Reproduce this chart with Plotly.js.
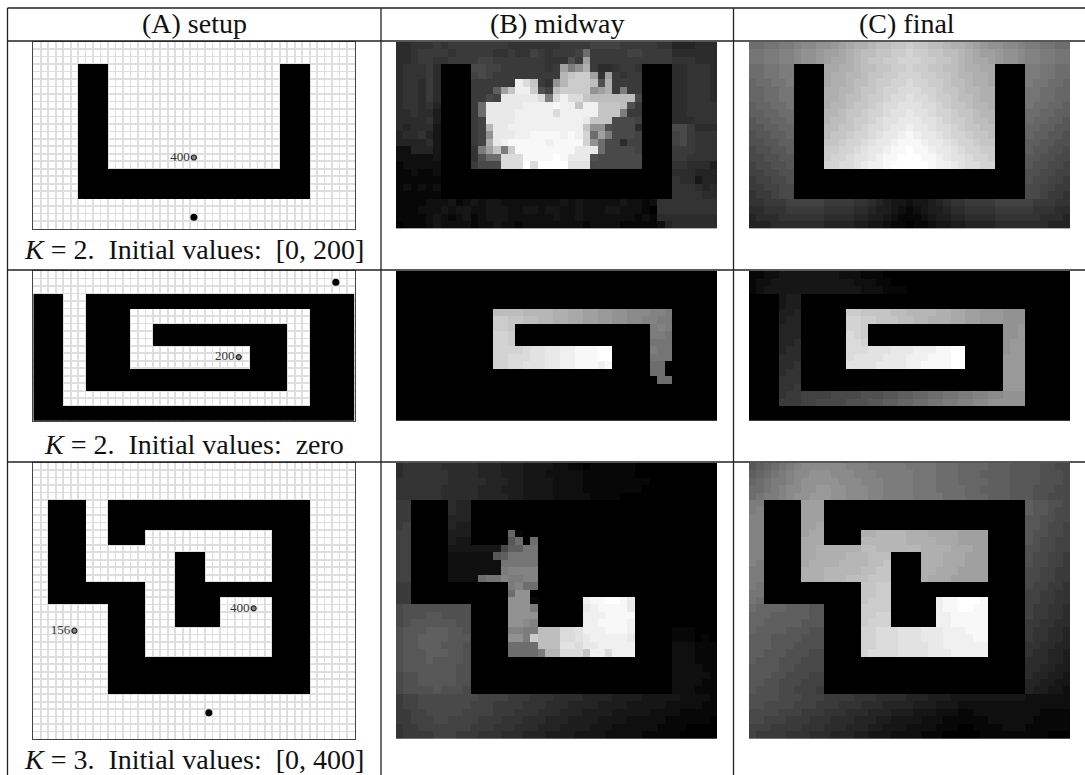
<!DOCTYPE html>
<html><head><meta charset="utf-8">
<script src="https://cdn.plot.ly/plotly-3.0.1.min.js"></script>
<style>html,body{margin:0;padding:0;background:#fff;overflow:hidden}#c{width:1085px;height:775px}</style>
</head><body><div id="c"></div>
<script>
// Row strings: one character per grid cell. Walls: '#' wall, '.' free.
const wallsA1 = [
".......... .......... .......... .......... ...",
".......... .......... .......... .......... ...",
".......... .......... .......... .......... ...",
"...... #### .......... .......... ... #### ......",
"...... #### .......... .......... ... #### ......",
"...... #### .......... .......... ... #### ......",
"...... #### .......... .......... ... #### ......",
"...... #### .......... .......... ... #### ......",
"...... #### .......... .......... ... #### ......",
"...... #### .......... .......... ... #### ......",
"...... #### .......... .......... ... #### ......",
"...... #### .......... .......... ... #### ......",
"...... #### .......... .......... ... #### ......",
"...... #### .......... .......... ... #### ......",
"...... #### .......... .......... ... #### ......",
"...... #### .......... .......... ... #### ......",
"...... #### .......... .......... ... #### ......",
"...... ########## ########## ########## # ......",
"...... ########## ########## ########## # ......",
"...... ########## ########## ########## # ......",
"...... ########## ########## ########## # ......",
".......... .......... .......... .......... ...",
".......... .......... .......... .......... ...",
".......... .......... .......... .......... ...",
".......... .......... .......... .......... ..."];
const wallsA2 = [
".......... .......... .......... .......... ...",
".......... .......... .......... .......... ...",
".......... .......... .......... .......... ...",
"#### ... ########## ########## ########## ######",
"#### ... ########## ########## ########## ######",
"#### ... ###### .......... .......... .... ######",
"#### ... ###### .......... .......... .... ######",
"#### ... ###### ... ########## ######## ... ######",
"#### ... ###### ... ########## ######## ... ######",
"#### ... ###### ... ########## ######## ... ######",
"#### ... ###### .......... ...... ##### ... ######",
"#### ... ###### .......... ...... ##### ... ######",
"#### ... ###### .......... ...... ##### ... ######",
"#### ... ########## ########## ####### ... ######",
"#### ... ########## ########## ####### ... ######",
"#### ... ########## ########## ####### ... ######",
"#### .......... .......... .......... ... ######",
"#### .......... .......... .......... ... ######",
"########## ########## ########## ########## ###",
"########## ########## ########## ########## ###"];
const wallsA3 = [
".......... .......... .......... .......... ...",
".......... .......... .......... .......... ...",
".......... .......... .......... .......... ...",
".......... .......... .......... .......... ...",
".......... .......... .......... .......... ...",
".. ##### ... ########## ########## ####### ......",
".. ##### ... ########## ########## ####### ......",
".. ##### ... ########## ########## ####### ......",
".. ##### ... ########## ########## ####### ......",
".. ##### ... ##### .......... ....... ##### ......",
".. ##### ... ##### .......... ....... ##### ......",
".. ##### .......... .......... ..... ##### ......",
".. ##### .......... .. #### ......... ##### ......",
".. ##### .......... .. #### ......... ##### ......",
".. ##### .......... .. #### ......... ##### ......",
".. ##### .......... .. #### ......... ##### ......",
".. ########## ### .... ########## ######## ......",
".. ########## ### .... ########## ######## ......",
".. ########## ### .... ###### ....... ##### ......",
".......... ##### .... ###### ....... ##### ......",
".......... ##### .... ###### ....... ##### ......",
".......... ##### .... ###### ....... ##### ......",
".......... ##### .......... ....... ##### ......",
".......... ##### .......... ....... ##### ......",
".......... ##### .......... ....... ##### ......",
".......... ##### .......... ....... ##### ......",
".......... ########## ########## ####### ......",
".......... ########## ########## ####### ......",
".......... ########## ########## ####### ......",
".......... ########## ########## ####### ......",
".......... ########## ########## ####### ......",
".......... .......... .......... .......... ...",
".......... .......... .......... .......... ...",
".......... .......... .......... .......... ...",
".......... .......... .......... .......... ...",
".......... .......... .......... .......... ...",
".......... .......... .......... .......... ..."];

// Grey levels, base-36 digit per cell (0 = black, z = white)
const midway1 = [
"6677787888 8888877777 7788889999 8888877555 666",
"6678888788 8887787798 78889f8888 8998888666 666",
"6678877888 8998888888 777b8m8888 8888888777 666",
"677786 0000 aa99888888 78mhko8667 887 0000 667776",
"677786 0000 9a98888888 88prssm7m8 788 0000 667776",
"677686 0000 888888xur8 7kpsssqbo8 888 0000 667776",
"677686 0000 888dmrxxsb 9qsssskmo8 h88 0000 667776",
"677686 0000 88a9wwwwwu huxuurqqqq qqa 0000 667776",
"677675 0000 8fwwwwwxxx xyxxrxxrrr qb8 0000 667777",
"667664 0000 8fwwwwxxxx xuxxxxxrrr h88 0000 667777",
"666674 0000 89wwwwxxxx xxxxxwrrra aa9 0000 666777",
"656663 0000 89pwwxxxxx xxxxxrkkba aa6 0000 aa8666",
"566753 0000 89kwwwxxyy yyxyxtfmha aa9 0000 9a8777",
"555563 0000 89owxyyyyy xyyyytkfaa 699 0000 9a8777",
"225553 0000 7hmrhsyyyy yyyywwwfaa aa9 0000 888777",
"222223 0000 7bffuuuyyy yzywwwbaaa aaa 0000 887777",
"122222 0000 8aaauuuzuz zzzvvvaaaa aaa 0000 776664",
"112112 0000000000 0000000000 0000000000 0 666555",
"111111 0000000000 0000000000 0000000000 0 766355",
"121212 0000000000 0000000000 0000000000 0 777656",
"111111 0000000000 0000000000 0000000000 0 777766",
"1111222312 3233222222 2232322222 3221277777 777",
"1112223233 2233322332 3322322233 2221077777 777",
"1111232123 1233322222 2322322222 2212166666 666",
"0111232222 1223221222 2222212222 1111125666 666"];
const final1 = [
"ffgghhijjkklmnoopqqrrs rrqqpoonmlkkjjihhggff",
"gghhiijkklmmnopqqrrsst ssrrqqponmmlkkjiihhgg",
"gghhiijkklmnnopqrrsstt tssrrqponnmlkkjiihhgg",
"ffgghh 0000 nnoopqqrrsst ssrrqqpoonn 0000 hhggff",
"ffgghh 0000 nooppqrrsstt tssrrqppoon 0000 hhggff",
"effggh 0000 noopqqrssttu ttssrqqpoon 0000 hggffe",
"eeffgg 0000 ooppqrrsttuu uttsrrqppoo 0000 ggffee",
"eeffgg 0000 oopqqrsstuuv uutssrqqpoo 0000 ggffee",
"deeffg 0000 oppqrrstuuvv vuutsrrqppo 0000 gffeed",
"ddeeff 0000 ppqrrsttuvvw vvuttsrrqpp 0000 ffeedd",
"cddeef 0000 pqqrsstuvvww wvvutssrqqp 0000 feeddc",
"ccddee 0000 qqrrstuuvwwx wwvuutsrrqq 0000 eeddcc",
"bccdde 0000 qrrsttuvwwxy xwwvuttsrrq 0000 eddccb",
"bbccdd 0000 rrsttuvwwxyy yxwwvuttsrr 0000 ddccbb",
"abbccd 0000 ssttuvwwxyyz yyxwwvuttss 0000 dccbba",
"aabbcc 0000 sttuvvwxyyzz zyyxwvvutts 0000 ccbbaa",
"9aabbc 0000 ttuuvwxxyzzz zzyxxwvuutt 0000 cbbaa9",
"99aabb 0000000000 0000000000 0000000000 0 bbaa99",
"899aab 0000000000 0000000000 0000000000 0 baa998",
"8899aa 0000000000 0000000000 0000000000 0 aa9988",
"7889aa 0000000000 0000000000 0000000000 0 aa9887",
"7788899999 8888776543 32 3 3456778888 9999988877",
"6677788888 7777665443 21 2 3445667777 8888877766",
"5666777777 6666554432 11 1 2344556666 7777776665",
"5556666666 5555443321 10 1 1233445555 6666666555"];
const midway2 = [
"0000000000 0000000000 0000000000 0000000000 000",
"0000000000 0000000000 0000000000 0000000000 000",
"0000000000 0000000000 0000000000 0000000000 000",
"0000000000 0000000000 0000000000 0000000000 000",
"0000000000 0000000000 0000000000 0000000000 000",
"0000 000 000000 qqqqppppoonnmmllkkjjjiih 000000",
"0000 000 000000 ssrrqqppoonnmmllkkjjiihh 000000",
"0000 000 000000 ssr 0000000000 00000000 hih 000000",
"0000 000 000000 tts 0000000000 00000000 hhg 000000",
"0000 000 000000 tts 0000000000 00000000 ggg 000000",
"0000 000 000000 ttttuvvwwxxyyyzz 00000 hgg 000000",
"0000 000 000000 ttuuuvvwwxxyyyzz 00000 ggg 000000",
"0000 000 000000 ttuuvvvwwxxyyyxy 00000 ff0 000000",
"0000 000 0000000000 0000000000 0000000 ff0 000000",
"0000 000 0000000000 0000000000 0000000 0ff 000000",
"0000000000 0000000000 0000000000 0000000000 000",
"0000000000 0000000000 0000000000 0000000000 000",
"0000000000 0000000000 0000000000 0000000000 000",
"0000000000 0000000000 0000000000 0000000000 000",
"0000000000 0000000000 0000000000 0000000000 000"];
const final2 = [
"1122333333 3322211100 0000000000 0000000000 000",
"1223333333 3333222110 0000000000 0000000000 000",
"1233333333 3333322211 1000000000 0000000000 000",
"0000 344 0000000000 0000000000 0000000000 000000",
"0000 344 0000000000 0000000000 0000000000 000000",
"0000 445 000000 ssrrrrqqppppoonnmmlllkkk 000000",
"0000 455 000000 ttssrrrqqppooonnmmlllkkk 000000",
"0000 555 000000 tts 0000000000 00000000 kkl 000000",
"0000 555 000000 uts 0000000000 00000000 kkl 000000",
"0000 556 000000 uut 0000000000 00000000 kll 000000",
"0000 566 000000 uuuvvvwwwxxxyyzz 00000 kll 000000",
"0000 666 000000 uvvvvwwwxxxyyyzz 00000 lll 000000",
"0000 667 000000 vvvvwwwwxxyyyyzz 00000 lll 000000",
"0000 677 0000000000 0000000000 0000000 lll 000000",
"0000 777 0000000000 0000000000 0000000 lll 000000",
"0000 778 0000000000 0000000000 0000000 lll 000000",
"0000 7889999aaaabbbccddeeffgghhiijjkkk 000000",
"0000 88899aaaabbbccddeeffgghhiijjkkkkk 000000",
"0000000000 0000000000 0000000000 0000000000 000",
"0000000000 0000000000 0000000000 0000000000 000"];
const midway3 = [
"6777776666 6555444333 3221101111 1100000000 000",
"6777777666 6555444333 2222211111 1100000000 000",
"7777777666 6655544333 3222211111 1111000000 000",
"7777776666 6555444333 3222211111 1110000000 000",
"7777776666 6555544333 3222221111 0000000000 000",
"88 00000 655 0000000000 0000000000 0000000 000000",
"88 00000 655 0000000000 0000000000 0000000 000000",
"88 00000 555 0000000000 0000000000 0000000 000000",
"89 00000 544 0000000000 0000000000 0000000 000000",
"99 00000 444 00000 e1000000000000000 00000 000000",
"99 00000 433 00000 cf0f0000000000000 00000 000000",
"99 00000 3333333 addgg 0000000000000 00000 000000",
"99 00000 222222cdgggg 0000 000000000 00000 000000",
"99 00000 2222222ggggg 0000 000000000 00000 000000",
"99 00000 2222222hiiii 0000 000000000 00000 000000",
"99 00000 2222fggihhii 0000 000000000 00000 000000",
"88 0000000000 000 hiff 0000000000 00000000 000000",
"88 0000000000 000 fkk0 0000000000 00000000 000000",
"88 0000000000 000 kkk1 000000 xyyzzyw 00000 000000",
"abbbbbbbbb 00000 kkkh 000000 wxyyyyw 00000 000000",
"abbbccbbbb 00000 kkkk 000000 xxxyyyy 00000 000000",
"abccccccbb 00000 kkji 000000 xxyyyyx 00000 000000",
"bcccdddccb 00000 iihhqqquuvxxxyyyx 00000 111000",
"bccddddccc 00000 kkhsqqquuvwxxxxxw 00000 111010",
"bccdddcccb 00000 ffffqqqvvuwwxxxxx 00000 222111",
"bcccdddccb 00000 ffffhppuuurxxuxxx 00000 222111",
"bcccdccccb 0000000000 0000000000 0000000 222111",
"bcccccccbb 0000000000 0000000000 0000000 222211",
"abbcccccbb 0000000000 0000000000 0000000 222221",
"abbcccccbb 0000000000 0000000000 0000000 222211",
"abbbbcbbba 0000000000 0000000000 0000000 222111",
"899aaaaaaa a999988877 7666655554 4443333322 221",
"899aaaaaaa 9998888777 6665555444 4333332222 211",
"8899aaaaa9 9998887776 6655544443 3333222211 111",
"88999aa999 9888777666 5554444333 3222221111 110",
"7889999999 8887776665 5544443332 2222211110 000",
"7888899988 8777666555 4444333322 2221111100 000"];
const final3 = [
"cdefghijjj jjjiiihhhh hggggfffee eedddccccb baa",
"defghijjkk kjjjiiihhh hhgggfffee eddddccccb bba",
"efghhijkkk kkjjjiiihh hhgggfffee eedddccccb bba",
"ffghijjkkl lkkjjjiihh hhgggffffe eddddcccbb baa",
"fghhijkkll lkkjjjiihh hhggggfffe eedddcccbb aaa",
"hh 00000 mmm 0000000000 0000000000 0000000 dccbba",
"hi 00000 mmm 0000000000 0000000000 0000000 dccbaa",
"ii 00000 mmm 0000000000 0000000000 0000000 ccbbaa",
"ii 00000 mmn 0000000000 0000000000 0000000 ccbaa9",
"ii 00000 mnn 00000 ooppppooonnnnmmmm 00000 cbbaa9",
"ii 00000 nnn 00000 ppppppoooonnnmmmm 00000 cbaa99",
"ii 00000 nnoooooo qqppppppoooonnnmm 00000 bbaa99",
"ii 00000 nnoooopppqqq 0000 ooonnnmmm 00000 baa998",
"ih 00000 nooooppppqqr 0000 ooonnnmmm 00000 baa998",
"hh 00000 ooopppppqqrr 0000 oonnnmmmm 00000 aa9988",
"hh 00000 ooopppqqqrrr 0000 onnnmmmmm 00000 aa9988",
"hg 0000000000 000 rrss 0000000000 00000000 a99887",
"gg 0000000000 000 rrss 0000000000 00000000 998877",
"gf 0000000000 000 rsss 000000 xyyzzzy 00000 998877",
"feeeedddcc 00000 ssss 000000 xyyzzyy 00000 988776",
"eeedddddcc 00000 sstt 000000 xxyyyyy 00000 988776",
"eedddddccc 00000 sttt 000000 xxyyyyy 00000 887766",
"eddddcccbb 00000 ttuuuvvvwwwxxxyyy 00000 877665",
"dddccccbbb 00000 ttuuuvvvwwwxxxxyy 00000 877665",
"dddcccbbbb 00000 ttuuuvvvvwwxxxxxx 00000 776655",
"ddcccbbbaa 00000 tuuuuvvvvwwwxxxxx 00000 766554",
"dcccbbbaaa 0000000000 0000000000 0000000 666554",
"ccccbbaaaa 0000000000 0000000000 0000000 665544",
"cccbbaaa99 0000000000 0000000000 0000000 655443",
"ccbbaaa999 0000000000 0000000000 0000000 554433",
"cbbbaa9998 0000000000 0000000000 0000000 544332",
"bbbbaaa999 8888777666 6555444333 3333333222 222",
"bbaaaa9998 8877766655 5544433322 2222222222 222",
"aaaa999888 7776665554 4433322211 2222222221 111",
"aa99988877 7666555443 3332221111 1122222211 111",
"9998888777 6665554433 3222211100 1111222111 111",
"9888877766 6555443332 2221110000 0111111111 000"];

const headers = ["(A) setup", "(B) midway", "(C) final"];
const captions = ["<i>K</i> = 2.  Initial values:  [0, 200]", "<i>K</i> = 2.  Initial values:  zero", "<i>K</i> = 3.  Initial values:  [0, 400]"];
const goalCols = [21, 40, 23], goalRows = [23, 1, 33];
const startCols = [[21], [27], [29, 5]], startRows = [[15], [11], [19, 22]];
const startLabels = [["400"], ["200"], ["400", "156"]];

const W = 1085, H = 775;
const colX = [[33.3, 354.5], [396, 717], [749, 1070]];
const rowY = [[41.7, 228.5], [271, 420.7], [462.7, 739]];
const wallSets = [wallsA1, wallsA2, wallsA3];
const midSets = [midway1, midway2, midway3];
const finSets = [final1, final2, final3];

function cells(rows, name) {
  return rows.map((r, i) => {
    const s = r.replace(/\s/g, "");
    if (s.length !== 43) throw new Error(name + " row " + i + " has " + s.length);
    return s.split("");
  });
}
const grey = (rows, name) => cells(rows, name).map(r => r.map(c => parseInt(c, 36) * 255 / 35));
const mask = (rows, name) => cells(rows, name).map(r => r.map(c => c === "#" ? 1 : null));

const traces = [], layout = {
  width: W, height: H, margin: {l: 0, r: 0, t: 0, b: 0}, showlegend: false,
  paper_bgcolor: "#fff", plot_bgcolor: "#fff", font: {family: "Liberation Serif", color: "#111"},
  shapes: [], annotations: []
};
let n = 1;
for (let r = 0; r < 3; r++) {
  const rows = wallSets[r].length;
  for (let c = 0; c < 3; c++) {
    const sx = n === 1 ? "" : n, xa = "x" + sx, ya = "y" + sx;
    const base = {zeroline: false, showticklabels: false, ticks: "", fixedrange: true};
    layout["xaxis" + sx] = Object.assign({}, base, {
      domain: [colX[c][0] / W, colX[c][1] / W], range: [-0.5, 42.5], anchor: ya,
      tick0: -0.5, dtick: 1, showgrid: c === 0, gridcolor: "#dedede", gridwidth: 1.7,
      showline: c === 0, mirror: true, linecolor: "#444", linewidth: 1
    });
    layout["yaxis" + sx] = Object.assign({}, base, {
      domain: [1 - rowY[r][1] / H, 1 - rowY[r][0] / H], range: [rows - 0.5, -0.5], anchor: xa,
      tick0: -0.5, dtick: 1, showgrid: c === 0, gridcolor: "#dedede", gridwidth: 1.7,
      showline: c === 0, mirror: true, linecolor: "#444", linewidth: 1
    });
    if (c === 0) {
      traces.push({type: "heatmap", xaxis: xa, yaxis: ya, z: mask(wallSets[r], "walls" + r),
        colorscale: [[0, "#000"], [1, "#000"]], zmin: 0, zmax: 1, showscale: false, hoverinfo: "skip"});
      traces.push({type: "scatter", mode: "markers", xaxis: xa, yaxis: ya, x: [goalCols[r]], y: [goalRows[r]],
        marker: {color: "#000", size: 7}, hoverinfo: "skip"});
      traces.push({type: "scatter", mode: "markers+text", xaxis: xa, yaxis: ya, x: startCols[r], y: startRows[r],
        text: startLabels[r], textposition: "middle left",
        textfont: {family: "Liberation Serif", size: 13, color: "#333"},
        marker: {color: "#888", size: 5, line: {color: "#222", width: 1.2}}, hoverinfo: "skip"});
    } else {
      const z = c === 1 ? grey(midSets[r], "mid" + r) : grey(finSets[r], "fin" + r);
      traces.push({type: "heatmap", xaxis: xa, yaxis: ya, z,
        colorscale: [[0, "#000"], [1, "#fff"]], zmin: 0, zmax: 255, showscale: false, hoverinfo: "skip"});
    }
    n++;
  }
}
// table rules
const rule = (x0, y0, x1, y1) => layout.shapes.push({type: "line", xref: "paper", yref: "paper",
  x0: x0 / W, x1: x1 / W, y0: 1 - y0 / H, y1: 1 - y1 / H, line: {color: "#222", width: 1.3}, layer: "above"});
[8, 41, 270, 462].forEach(y => rule(7.5, y, 1085, y));
[7.5, 381, 733.5].forEach(x => rule(x, 8, x, 775));
// header and caption text
const centers = [194, 557, 907];
headers.forEach((t, i) => layout.annotations.push({xref: "paper", yref: "paper", x: centers[i] / W, y: 1 - 23.5 / H,
  text: t, showarrow: false, font: {size: 28, family: "Liberation Serif", color: "#111"}, xanchor: "center", yanchor: "middle"}));
[250, 444, 759].forEach((y, i) => layout.annotations.push({xref: "paper", yref: "paper", x: 194 / W, y: 1 - y / H,
  text: captions[i], showarrow: false, font: {size: 28, family: "Liberation Serif", color: "#111"}, xanchor: "center", yanchor: "middle"}));

Plotly.newPlot("c", traces, layout, {staticPlot: true, displayModeBar: false});
</script></body></html>
